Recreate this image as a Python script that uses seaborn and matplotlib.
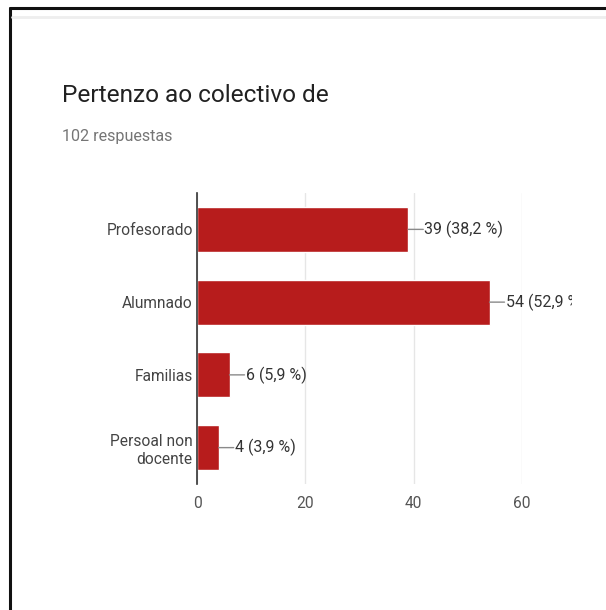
import matplotlib
matplotlib.use("Agg")
from matplotlib import pyplot as plt
from matplotlib.lines import Line2D
from matplotlib.transforms import Bbox
import seaborn as sns
import pandas as pd

sns.set_style('white')
plt.rcParams['font.family'] = ['Roboto', 'DejaVu Sans']

# data
categories = ['Profesorado', 'Alumnado', 'Familias', 'Persoal non\ndocente']
counts = [39, 54, 6, 4]
percents = ['38,2 %', '52,9 %', '5,9 %', '3,9 %']
x_ticks = [0, 20, 40, 60]
title = 'Pertenzo ao colectivo de'
subtitle = '102 respuestas'

df = pd.DataFrame({'grupo': categories, 'n': counts})

W, H = 606, 610
fig = plt.figure(figsize=(W / 100, H / 100), dpi=100)
fig.patch.set_facecolor('white')
ax = fig.add_axes([197 / W, 1 - 484 / H, (522 - 197) / W, (484 - 193) / H])

sns.barplot(data=df, y='grupo', x='n', orient='h', color='#b71c1c',
            saturation=1, width=0.62, ax=ax)

ax.set_xlim(0, 60)
ax.set_xticks(x_ticks)
ax.set_xlabel('')
ax.set_ylabel('')
ax.grid(axis='x', color='#e6e6e6', linewidth=1)
ax.set_axisbelow(True)
for s in ['top', 'right', 'bottom']:
    ax.spines[s].set_visible(False)
ax.spines['left'].set_color('#333333')
ax.spines['left'].set_linewidth(1.2)
ax.tick_params(axis='both', length=0, labelsize=11.2, labelcolor='#444444')
ax.tick_params(axis='x', pad=9, labelcolor='#555555')
ax.tick_params(axis='y', pad=3)
for lab in ax.get_yticklabels():
    lab.set_horizontalalignment('right')
    lab.set_multialignment('right')

# value labels with little leader lines, clipped like the screenshot
clip = Bbox([[0, 0], [572, H]])
for i, (c, p) in enumerate(zip(counts, percents)):
    ax.annotate('', xy=(c, i), xytext=(15, 0), textcoords='offset pixels',
                arrowprops=dict(arrowstyle='-', color='#8a8a8a', lw=1,
                                shrinkA=0, shrinkB=0))
    t = ax.annotate('%d (%s)' % (c, p), xy=(c, i), xytext=(16, 0),
                    textcoords='offset pixels', va='center', ha='left',
                    fontsize=11.5, color='#333333')
    t.set_clip_box(clip)
    t.set_clip_on(True)

fig.text(62 / W, 1 - 102 / H, title, fontsize=17.6, color='#212121',
         ha='left', va='baseline')
fig.text(62 / W, 1 - 141 / H, subtitle, fontsize=11.6, color='#757575',
         ha='left', va='baseline')

# screenshot frame
fig.add_artist(Line2D([10 / W, 10 / W], [0, 1 - 8 / H], color='#111111', lw=2.2))
fig.add_artist(Line2D([10 / W, 1], [1 - 8 / H, 1 - 8 / H], color='#111111', lw=2.2))
fig.add_artist(Line2D([12 / W, 1], [1 - 17 / H, 1 - 17 / H], color='#eeeeee', lw=2))

fig.savefig('out.png', dpi=100, facecolor='white')
